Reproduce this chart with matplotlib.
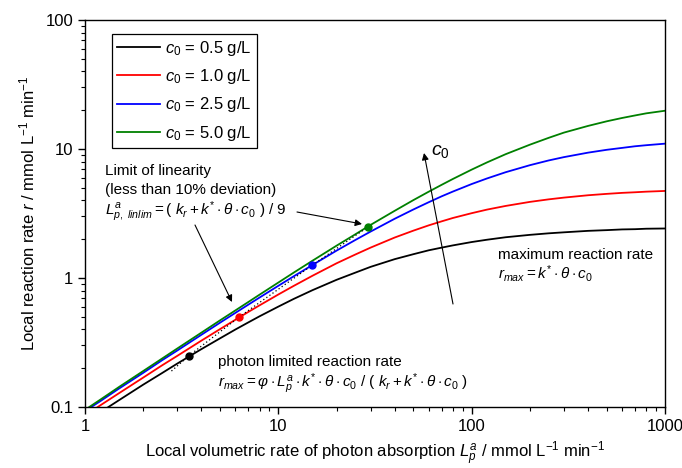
import matplotlib
matplotlib.use('Agg')
import matplotlib.pyplot as plt
from matplotlib.ticker import LogLocator, FuncFormatter, NullFormatter

plt.rcParams['font.family'] = ['Liberation Sans', 'DejaVu Sans']
plt.rcParams['mathtext.fontset'] = 'custom'
plt.rcParams['mathtext.rm'] = 'Liberation Sans'
plt.rcParams['mathtext.it'] = 'Liberation Sans:italic'
plt.rcParams['mathtext.bf'] = 'Liberation Sans:bold'

## data ##

L_abs = [1, 1.2, 1.5, 2, 2.5, 3, 4, 5, 6, 7, 8, 10, 12, 15, 20, 25, 30, 40, 50, 60, 70, 80,
         100, 120, 150, 200, 250, 300, 400, 500, 600, 700, 800, 1000]
r_c05 = [0.077, 0.091, 0.113, 0.149, 0.183, 0.217, 0.281, 0.341, 0.399, 0.453, 0.505, 0.600,
         0.688, 0.804, 0.968, 1.10, 1.22, 1.40, 1.53, 1.64, 1.72, 1.79,
         1.90, 1.98, 2.07, 2.16, 2.22, 2.26, 2.32, 2.35, 2.38, 2.39, 2.41, 2.42]
r_c10 = [0.086, 0.103, 0.128, 0.169, 0.210, 0.249, 0.327, 0.402, 0.475, 0.546, 0.614, 0.745,
         0.868, 1.04, 1.30, 1.52, 1.72, 2.06, 2.33, 2.56, 2.75, 2.92,
         3.18, 3.39, 3.62, 3.89, 4.07, 4.20, 4.38, 4.49, 4.57, 4.62, 4.67, 4.73]
r_c25 = [0.093, 0.111, 0.139, 0.184, 0.230, 0.274, 0.363, 0.451, 0.537, 0.622, 0.706, 0.870,
         1.03, 1.26, 1.63, 1.97, 2.29, 2.88, 3.40, 3.87, 4.30, 4.68,
         5.35, 5.91, 6.61, 7.49, 8.15, 8.65, 9.37, 9.86, 10.2, 10.5, 10.7, 11.0]
r_c50 = [0.095, 0.114, 0.143, 0.190, 0.237, 0.284, 0.377, 0.470, 0.561, 0.652, 0.743, 0.922,
         1.10, 1.36, 1.78, 2.18, 2.58, 3.32, 4.02, 4.67, 5.28, 5.86,
         6.92, 7.87, 9.12, 10.8, 12.2, 13.4, 15.1, 16.4, 17.4, 18.2, 18.9, 19.8]

# limit of linearity points, one per concentration
L_lin = [3.45, 6.29, 14.9, 29.2]
r_lin = [0.25, 0.5, 1.25, 2.5]
# dotted locus through the linearity limits
L_locus = [2.8, 3.45, 6.29, 14.9, 29.2]
r_locus = [0.19, 0.25, 0.5, 1.25, 2.5]

labels = [r'$c_{\mathit{0}}$ = 0.5 g/L', r'$c_{\mathit{0}}$ = 1.0 g/L',
          r'$c_{\mathit{0}}$ = 2.5 g/L', r'$c_{\mathit{0}}$ = 5.0 g/L']
colors = ['black', '#ff0000', '#0000ff', '#008000']

## plot ##

W, H = 682, 468

def px(x, y):
    return (x / W, 1 - y / H)

fig = plt.figure(figsize=(W / 100, H / 100), dpi=100)
ax = fig.add_axes([85 / W, 1 - 407 / H, 580 / W, 387 / H])

for r, lab, col in zip([r_c05, r_c10, r_c25, r_c50], labels, colors):
    ax.plot(L_abs, r, color=col, lw=1.3, label=lab)

ax.plot(L_locus, r_locus, color='black', ls=(0, (1, 2)), lw=0.9)
for x, y, col in zip(L_lin, r_lin, colors):
    ax.plot(x, y, 'o', color=col, ms=5)

ax.set_xscale('log')
ax.set_yscale('log')
ax.set_xlim(1, 1000)
ax.set_ylim(0.1, 100)

fmt = FuncFormatter(lambda v, pos: '%g' % v)
for axis in (ax.xaxis, ax.yaxis):
    axis.set_major_locator(LogLocator(base=10))
    axis.set_minor_locator(LogLocator(base=10, subs=range(2, 10)))
    axis.set_major_formatter(fmt)
    axis.set_minor_formatter(NullFormatter())
ax.tick_params(which='major', direction='out', length=5, width=1, labelsize=12)
ax.tick_params(which='minor', direction='out', length=3, width=0.8)
for s in ax.spines.values():
    s.set_linewidth(1)

ax.set_xlabel(r'Local volumetric rate of photon absorption $L_p^a$ / mmol L$^{-1}$ min$^{-1}$', fontsize=12, labelpad=4)
ax.set_ylabel(r'Local reaction rate $r$ / mmol L$^{-1}$ min$^{-1}$', fontsize=12, labelpad=6)

leg = ax.legend(loc='upper left', bbox_to_anchor=(27 / 580, 1 - 14 / 387), borderaxespad=0,
                fontsize=12, frameon=True, fancybox=False, framealpha=1, edgecolor='black',
                handlelength=2.6, handletextpad=0.3, borderpad=0.3, labelspacing=0.55)
leg.get_frame().set_linewidth(0.9)

# annotations
fs = 11
fig.text(*px(105, 171), 'Limit of linearity', fontsize=fs, va='center')
fig.text(*px(105, 190), '(less than 10% deviation)', fontsize=fs, va='center')
fig.text(*px(105, 212), r'$L^a_{p,\ linlim} = (\ k_r + k^{*} \cdot \theta \cdot c_{\mathit{0}}\ )\ /\ 9$', fontsize=fs, va='center')

fig.text(*px(218, 362), 'photon limited reaction rate', fontsize=fs, va='center')
fig.text(*px(218, 384), r'$r_{max} = \varphi \cdot L^a_p \cdot k^{*} \cdot \theta \cdot c_{\mathit{0}}\ /\ (\ k_r + k^{*} \cdot \theta \cdot c_{\mathit{0}}\ )$', fontsize=fs, va='center')

fig.text(*px(498, 255), 'maximum reaction rate', fontsize=fs, va='center')
fig.text(*px(498, 274), r'$r_{max} = k^{*} \cdot \theta \cdot c_{\mathit{0}}$', fontsize=fs, va='center')

fig.text(*px(431, 152), r'$c_{\mathit{0}}$', fontsize=14, va='center')

arrow = dict(arrowstyle='-|>', color='black', lw=0.8, mutation_scale=10, shrinkA=0, shrinkB=0)
for start, end in [((195, 225), (232, 302)), ((297, 212), (362, 224)), ((453, 304), (424, 153))]:
    ax.annotate('', xy=px(*end), xycoords='figure fraction',
                xytext=px(*start), textcoords='figure fraction', arrowprops=arrow)

fig.savefig('out.png', dpi=100)
